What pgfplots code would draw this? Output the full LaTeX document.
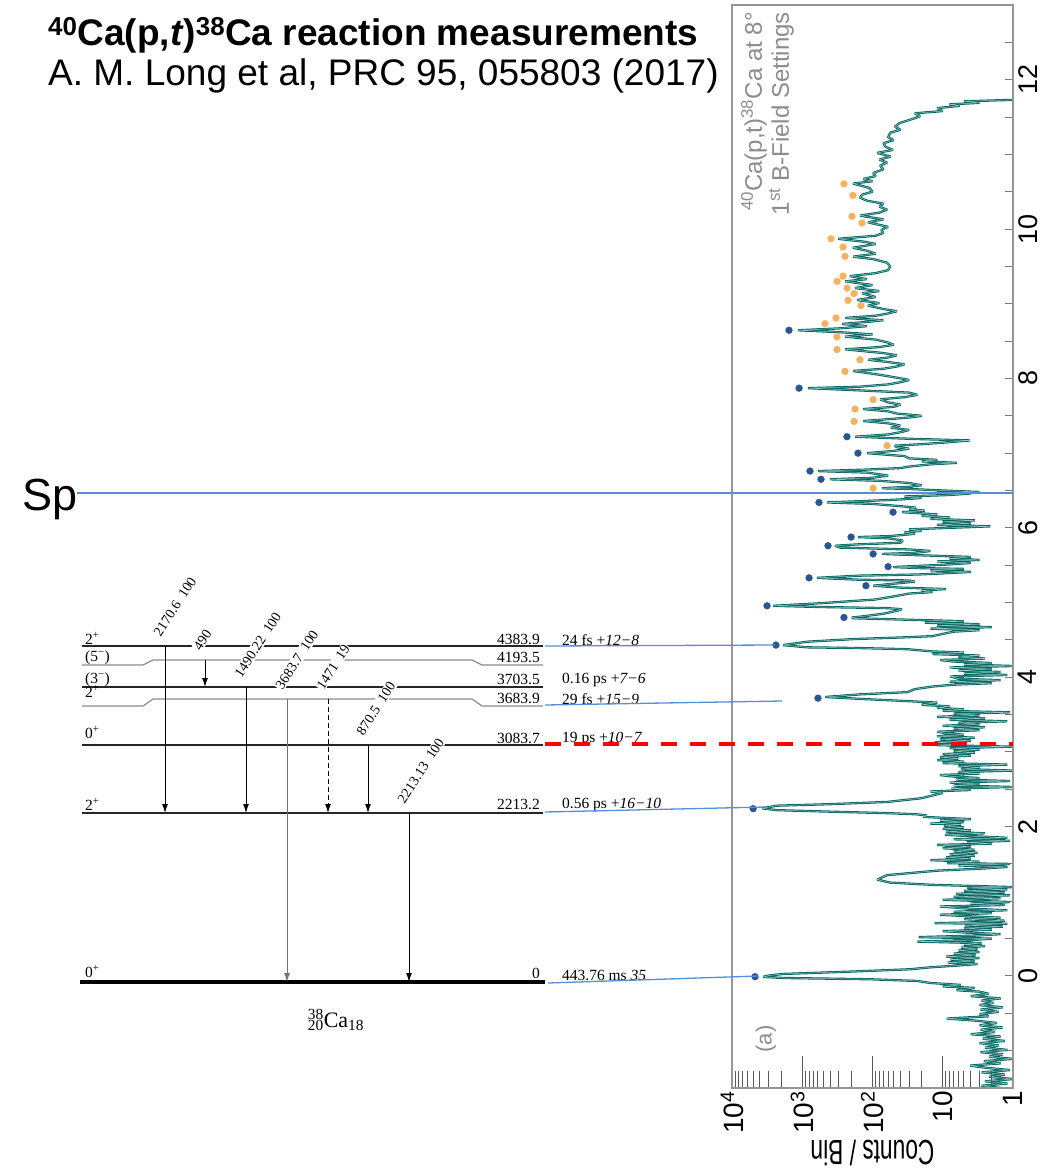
\documentclass[border=0pt]{standalone}
\usepackage{pgfplots}
\pgfplotsset{compat=1.18}
\usepackage{pgfplotstable}
\usepackage{graphicx}
\usepackage{fontspec}
\setmainfont{Liberation Sans}
\newfontfamily\timesf{Liberation Serif}
\usetikzlibrary{arrows.meta}

\definecolor{tealdk}{RGB}{4,100,98}
\definecolor{teallt}{RGB}{150,200,192}
\definecolor{dotblue}{RGB}{40,86,146}
\definecolor{dotorange}{RGB}{244,178,96}
\definecolor{linkblue}{RGB}{84,142,222}
\definecolor{insetgray}{RGB}{140,140,140}
\definecolor{framegray}{RGB}{150,150,150}

\pgfplotstableread{
E c
-1.50 1.5
-1.47 2.8
-1.44 1.2
-1.41 2.5
-1.38 1
-1.35 2.2
-1.32 1.3
-1.29 2.8
-1.26 1.1
-1.23 2.4
-1.20 4.1
-1.17 1.5
-1.14 2.6
-1.11 1
-1.08 2.2
-1.05 1.4
-1.02 2.9
-0.99 1.2
-0.96 2.5
-0.93 1.6
-0.90 3
-0.87 1.3
-0.84 2.7
-0.81 1.5
-0.78 4
-0.75 1.8
-0.72 2.9
-0.69 1.4
-0.66 3
-0.63 1.7
-0.60 3.2
-0.57 8.8
-0.54 2.2
-0.51 3
-0.48 1.6
-0.45 2.9
-0.42 1.4
-0.39 3
-0.36 1.9
-0.33 2.8
-0.30 1.5
-0.27 4
-0.24 2.2
-0.21 3
-0.19 6.4
-0.16 3.5
-0.14 10
-0.12 5.5
-0.094 15
-0.067 23
-0.044 109
-0.027 1880
-0.012 3620
0.005 3000
0.027 1880
0.058 210
0.09 29
0.116 15
0.14 6
0.16 3.2
0.18 8.5
0.20 3.5
0.22 7.8
0.24 3
0.26 9
0.28 3.4
0.30 7
0.32 3
0.34 6
0.36 3.2
0.38 5.5
0.40 2.5
0.42 5
0.44 2.8
0.46 23
0.48 4
0.50 2
0.52 22
0.54 3.5
0.56 1.5
0.58 4.5
0.60 10
0.62 2
0.64 5
0.66 1.4
0.68 4.8
0.70 1.2
0.706 13
0.72 3
0.74 1.3
0.76 5
0.78 1.5
0.80 4.5
0.82 11
0.84 2
0.86 7
0.88 1.2
0.90 4
0.93 11
0.95 1.3
0.97 4
0.99 1.1
1.02 10
1.04 1.5
1.06 7
1.08 1.1
1.10 6.5
1.12 1.3
1.14 5
1.16 1.2
1.18 4.5
1.19 1
1.22 14
1.25 56
1.29 86
1.35 62
1.41 12
1.44 2.5
1.46 1.2
1.48 6
1.50 1.1
1.51 8.7
1.53 3
1.55 15
1.57 4
1.59 9
1.61 3.5
1.63 8
1.65 3.2
1.67 7
1.69 3.5
1.71 10
1.73 4
1.755 12
1.77 2
1.79 4.5
1.81 1.1
1.83 7
1.85 1.2
1.87 3.5
1.89 9.3
1.91 2.5
1.93 9
1.95 4
1.97 10
1.99 5
2.01 9.5
2.03 5.5
2.04 15
2.06 5
2.08 11
2.10 4
2.13 19
2.15 17
2.165 24
2.18 62
2.20 403
2.22 2290
2.245 3740
2.28 2290
2.30 403
2.33 62
2.38 20
2.41 15
2.45 10
2.47 15
2.49 4
2.51 7.5
2.53 1
2.55 7
2.57 3
2.59 8
2.61 1.1
2.63 6.5
2.65 3
2.67 7
2.69 11
2.71 3
2.73 6
2.75 1
2.77 5.5
2.79 3
2.81 6
2.83 1.2
2.85 10
2.87 5
2.89 12
2.91 6
2.93 11
2.95 4
2.97 10
2.99 3.5
3.01 7
3.03 3
3.05 8
3.07 1
3.09 12
3.11 5
3.13 13
3.15 4
3.17 11
3.19 3.5
3.21 12
3.23 5
3.25 9
3.27 12
3.29 3
3.31 7
3.33 2.5
3.35 10
3.37 3
3.39 6
3.41 1.2
3.43 8
3.45 2.5
3.47 12
3.49 3
3.51 7
3.53 1.1
3.55 10
3.57 5
3.59 12
3.61 8
3.63 20
3.66 12
3.68 32
3.71 151
3.735 470
3.77 151
3.80 32
3.84 25
3.875 14
3.90 7
3.92 2
3.94 8
3.96 1.5
3.98 6
4.01 7.8
4.03 1.2
4.05 5
4.07 1.5
4.09 6
4.11 2
4.13 8
4.15 1
4.17 5
4.19 2
4.21 7
4.23 11
4.25 2.5
4.27 6
4.29 3
4.31 14
4.33 5
4.345 14
4.375 32
4.39 150
4.40 855
4.43 1880
4.475 855
4.51 190
4.535 32
4.55 14
4.58 10
4.61 7
4.63 3
4.65 15
4.67 2
4.69 12
4.71 3
4.73 18
4.75 5
4.765 21
4.775 51
4.79 190
4.80 196
4.81 150
4.85 70
4.89 45
4.91 38
4.925 62
4.94 560
4.956 2600
4.99 560
5.04 92
5.08 51
5.12 30
5.14 14
5.16 20
5.18 9
5.20 41
5.225 98
5.26 41
5.28 25
5.295 30
5.305 151
5.33 617
5.36 151
5.375 23
5.39 10
5.41 4
5.43 15
5.45 5
5.46 20
5.475 51
5.49 22
5.51 8
5.53 4
5.55 12
5.57 3
5.59 8
5.61 4
5.635 25
5.65 73
5.665 25
5.69 15
5.71 29
5.735 290
5.76 342
5.78 150
5.80 40
5.83 37
5.86 60
5.876 161
5.89 55
5.92 25
5.94 35
5.96 20
5.98 30
6.00 8
6.02 2.1
6.04 12
6.06 4
6.08 10
6.10 3.5
6.12 15
6.14 8
6.16 20
6.18 12
6.21 38
6.23 18
6.25 30
6.27 24
6.29 40
6.32 100
6.34 445
6.36 120
6.38 40
6.40 20
6.42 35
6.44 8
6.46 4
6.47 12
6.48 3
6.50 10
6.52 30
6.53 73
6.55 30
6.57 20
6.60 30
6.63 80
6.65 403
6.67 100
6.70 60
6.74 120
6.76 597
6.78 120
6.80 40
6.82 30
6.85 15
6.87 6.3
6.89 20
6.91 12
6.93 30
6.96 35
7.00 120
7.03 50
7.06 30
7.08 45
7.10 48
7.12 20
7.14 10
7.17 4.1
7.19 25
7.20 50
7.22 177
7.25 60
7.28 40
7.31 30
7.34 55
7.37 40
7.40 60
7.43 136
7.46 50
7.48 28
7.50 20
7.53 45
7.56 60
7.59 136
7.62 50
7.65 40
7.68 60
7.72 78
7.75 35
7.78 23
7.81 30
7.84 150
7.87 828
7.89 150
7.92 60
7.95 40
7.98 30
8.01 45
8.05 80
8.10 190
8.13 70
8.16 45
8.19 35
8.22 60
8.25 116
8.28 60
8.31 45
8.34 70
8.39 245
8.42 80
8.45 50
8.48 60
8.52 90
8.56 245
8.59 100
8.62 300
8.645 1150
8.67 300
8.70 120
8.73 272
8.76 110
8.78 70
8.81 245
8.84 90
8.87 60
8.90 45
8.93 70
8.975 116
9.01 80
9.05 166
9.09 90
9.14 141
9.17 80
9.21 177
9.25 100
9.30 245
9.33 120
9.37 210
9.41 90
9.45 60
9.50 56
9.55 62
9.60 100
9.63 190
9.67 90
9.71 120
9.75 190
9.80 90
9.83 130
9.87 310
9.91 90
9.95 70
9.99 75
10.03 60
10.09 116
10.13 70
10.18 151
10.22 80
10.26 62
10.30 80
10.34 70
10.38 120
10.42 150
10.46 141
10.50 100
10.55 110
10.61 190
10.64 100
10.67 136
10.71 90
10.75 98
10.80 70
10.85 78
10.89 62
10.93 80
10.97 55
11.02 86
11.06 51
11.10 65
11.15 70
11.19 50
11.23 60
11.29 56
11.33 40
11.37 48
11.42 41
11.46 30
11.51 21
11.55 25
11.58 10
11.62 12
11.65 5.7
11.67 8
11.69 3
11.71 5
11.73 1
}\spec

\begin{document}
\begin{tikzpicture}
\useasboundingbox (0,0) rectangle (1042pt,1168pt);

% ---------- spectrum (energy ticks) ----------
\begin{axis}[at={(732pt,80pt)}, anchor=south west, scale only axis,
  width=281pt, height=1083pt,
  xmode=log, x dir=reverse, xmin=1, xmax=10000, ymin=-1.5, ymax=13,
  axis line style={framegray, line width=1.2pt},
  xtick=\empty, ytick={0,2,...,12}, minor ytick={-1,-0.5,...,12.5},
  ytick pos=right, yticklabel pos=right, tick align=inside,
  major tick length=8pt, minor tick length=8pt,
  tick style={framegray!80!black, line width=1pt},
  yticklabel style={rotate=90, anchor=north, inner sep=5pt, font=\fontsize{27}{29}\selectfont},
  /pgf/number format/assume math mode=true]
\addplot[tealdk, line width=2.3pt, line join=bevel, mark=none] table[x=c,y=E]{\spec};
\addplot[teallt, line width=0.5pt, line join=bevel, mark=none] table[x=c,y=E]{\spec};
\addplot[only marks, mark=*, mark size=3.4pt, dotorange] coordinates {
(98,6.53) (62,7.10) (183,7.425) (177,7.59) (98,7.716) (246,8.095) (151,8.25)
(320,8.386) (320,8.556) (475,8.734) (331,8.81) (146,8.975) (223,9.046) (183,9.136)
(230,9.21) (320,9.30) (263,9.37) (246,9.635) (263,9.76) (390,9.87) (141,10.08)
(196,10.17) (190,10.45) (255,10.605)};
\addplot[only marks, mark=*, mark size=3.4pt, dotblue] coordinates {
(4700,-0.01) (5000,2.24) (597,3.72) (2370,4.43) (255,4.80) (3170,4.956)
(124,5.225) (800,5.33) (60,5.48) (98,5.65) (430,5.76) (202,5.876) (51,6.21)
(578,6.34) (541,6.65) (776,6.76) (161,7.00) (231,7.22) (1110,7.87) (1545,8.645)};
\end{axis}

% ---------- spectrum (counts ticks) ----------
\begin{axis}[at={(732pt,80pt)}, anchor=south west, scale only axis,
  width=281pt, height=1083pt,
  xmode=log, x dir=reverse, xmin=1, xmax=10000, ymin=-1.5, ymax=13,
  axis line style={framegray, line width=1.2pt},
  ytick=\empty, xtick={1,10,100,1000,10000},
  xticklabels={1,10,10\textsuperscript{2},10\textsuperscript{3},10\textsuperscript{4}},
  minor xtick={2,3,...,9,20,30,...,90,200,300,...,900,2000,3000,...,9000},
  xtick pos=left, tick align=inside,
  major tick length=32pt, minor tick length=17pt,
  tick style={black!65, line width=1pt},
  xticklabel style={rotate=90, anchor=east, inner sep=3pt, font=\fontsize{28}{30}\selectfont},
  xlabel={\scalebox{0.65}[1]{Counts / Bin}},
  xlabel style={at={(axis description cs:0.5,0)}, anchor=center, yshift=-65pt, rotate=180,
    font=\fontsize{35}{37}\selectfont}]
\end{axis}

% ---------- level scheme, texts and links (pixel coordinates) ----------
\begin{axis}[at={(0pt,0pt)}, anchor=south west, scale only axis,
  width=1042pt, height=1168pt, xmin=0, xmax=1042, ymin=0, ymax=1168,
  y dir=reverse, hide axis, clip=false]
% levels
\addplot[black!85, line width=1.2pt, mark=none] coordinates {(82,646) (543,646)};
\addplot[black!45, line width=1.2pt, mark=none] coordinates {(82,665) (143,665) (153,660) (472,660) (482,665) (543,665)};
\addplot[black!85, line width=1.2pt, mark=none] coordinates {(82,687) (543,687)};
\addplot[black!45, line width=1.2pt, mark=none] coordinates {(82,706) (143,706) (153,699) (472,699) (482,706) (543,706)};
\addplot[black!85, line width=1.2pt, mark=none] coordinates {(82,745) (543,745)};
\addplot[black!85, line width=1.2pt, mark=none] coordinates {(82,813) (543,813)};
\addplot[black, line width=4.5pt, mark=none] coordinates {(80,982) (545,982)};
% transitions
\addplot[black, line width=1pt, mark=none, -{Latex[length=9pt,width=6pt]}] coordinates {(165,646) (165,813)};
\addplot[black, line width=1pt, mark=none, -{Latex[length=9pt,width=6pt]}] coordinates {(205,660) (205,687)};
\addplot[black, line width=1pt, mark=none, -{Latex[length=9pt,width=6pt]}] coordinates {(246,687) (246,813)};
\addplot[black!55, line width=1pt, mark=none, -{Latex[length=9pt,width=6pt]}] coordinates {(287,699) (287,982)};
\addplot[black, line width=1pt, mark=none, dash pattern=on 5pt off 3pt, -{Latex[length=9pt,width=6pt]}] coordinates {(328,699) (328,813)};
\addplot[black, line width=1pt, mark=none, -{Latex[length=9pt,width=6pt]}] coordinates {(368,745) (368,813)};
\addplot[black, line width=1pt, mark=none, -{Latex[length=9pt,width=6pt]}] coordinates {(409,813) (409,982)};
% gamma labels
\tikzset{gam/.style={font=\timesf\fontsize{14}{16}\selectfont, rotate=57, anchor=base west, fill=white, inner sep=1pt}}
\node[gam] at (axis cs:160,638) {2170.6\ \ 100};
\node[gam] at (axis cs:200,652) {490};
\node[gam] at (axis cs:241,679) {1490.22\ \ 100};
\node[gam] at (axis cs:282,691) {3683.7\ \ 100};
\node[gam] at (axis cs:323,691) {1471\ \ 19};
\node[gam] at (axis cs:363,737) {870.5\ \ 100};
\node[gam] at (axis cs:404,805) {2213.13\ \ 100};
% level labels
\tikzset{lvl/.style={font=\timesf\fontsize{15.5}{17}\selectfont, inner sep=0pt}}
\node[lvl, anchor=base west] at (axis cs:85,644) {2\textsuperscript{+}};
\node[lvl, anchor=base west] at (axis cs:85,661) {(5\textsuperscript{−})};
\node[lvl, anchor=base west] at (axis cs:85,683) {(3\textsuperscript{−})};
\node[lvl, anchor=base west] at (axis cs:85,697) {2\textsuperscript{+}};
\node[lvl, anchor=base west] at (axis cs:85,738) {0\textsuperscript{+}};
\node[lvl, anchor=base west] at (axis cs:85,810) {2\textsuperscript{+}};
\node[lvl, anchor=base west] at (axis cs:85,977) {0\textsuperscript{+}};
\node[lvl, anchor=base east] at (axis cs:540,644) {4383.9};
\node[lvl, anchor=base east] at (axis cs:540,662) {4193.5};
\node[lvl, anchor=base east] at (axis cs:540,684) {3703.5};
\node[lvl, anchor=base east] at (axis cs:540,703) {3683.9};
\node[lvl, anchor=base east] at (axis cs:540,743) {3083.7};
\node[lvl, anchor=base east] at (axis cs:540,809) {2213.2};
\node[lvl, anchor=base east] at (axis cs:540,978) {0};
\node[lvl, anchor=base west] at (axis cs:562,645) {24 fs +\textit{12−8}};
\node[lvl, anchor=base west] at (axis cs:562,683) {0.16 ps +\textit{7−6}};
\node[lvl, anchor=base west] at (axis cs:562,704) {29 fs +\textit{15−9}};
\node[lvl, anchor=base west] at (axis cs:562,742) {19 ps +\textit{10−7}};
\node[lvl, anchor=base west] at (axis cs:562,808) {0.56 ps +\textit{16−10}};
\node[lvl, anchor=base west] at (axis cs:562,980) {443.76 ms \textit{35}};
\node[font=\timesf\fontsize{22}{24}\selectfont, inner sep=0pt] at (axis cs:336,1020)
  {\rlap{\textsuperscript{38}}\textsubscript{20}Ca\textsubscript{18}};
% titles
\node[anchor=base west, inner sep=0pt, font=\bfseries\fontsize{37}{40}\selectfont] at (axis cs:48,45)
  {\textsuperscript{40}Ca(p,\textit{t})\textsuperscript{38}Ca reaction measurements};
\node[anchor=base west, inner sep=0pt, font=\fontsize{37}{40}\selectfont] at (axis cs:48,85)
  {A. M. Long et al, PRC 95, 055803 (2017)};
\node[anchor=base west, inner sep=0pt, font=\fontsize{45}{48}\selectfont] at (axis cs:22,510) {Sp};
% inset texts
\node[rotate=90, anchor=north east, align=right, text=insetgray, inner sep=0pt,
  font=\fontsize{24}{27}\selectfont] at (axis cs:741,12)
  {\textsuperscript{40}Ca(p,t)\textsuperscript{38}Ca at 8°\\1\textsuperscript{st} B-Field Settings};
\node[rotate=90, text=insetgray, inner sep=0pt, font=\fontsize{22}{24}\selectfont] at (axis cs:766,1039) {(a)};
% links
\addplot[linkblue, line width=1.3pt, mark=none] coordinates {(77,493) (1013,493)};
\addplot[linkblue, line width=1.3pt, mark=none] coordinates {(545,646) (775,645)};
\addplot[linkblue, line width=1.3pt, mark=none] coordinates {(545,705) (782,701)};
\addplot[linkblue, line width=1.3pt, mark=none] coordinates {(545,812) (765,807)};
\addplot[linkblue, line width=1.3pt, mark=none] coordinates {(548,983) (758,976)};
\addplot[red, line width=4pt, mark=none, dash pattern=on 16pt off 13pt] coordinates {(545,744) (1013,744)};
\end{axis}
\end{tikzpicture}
\end{document}
